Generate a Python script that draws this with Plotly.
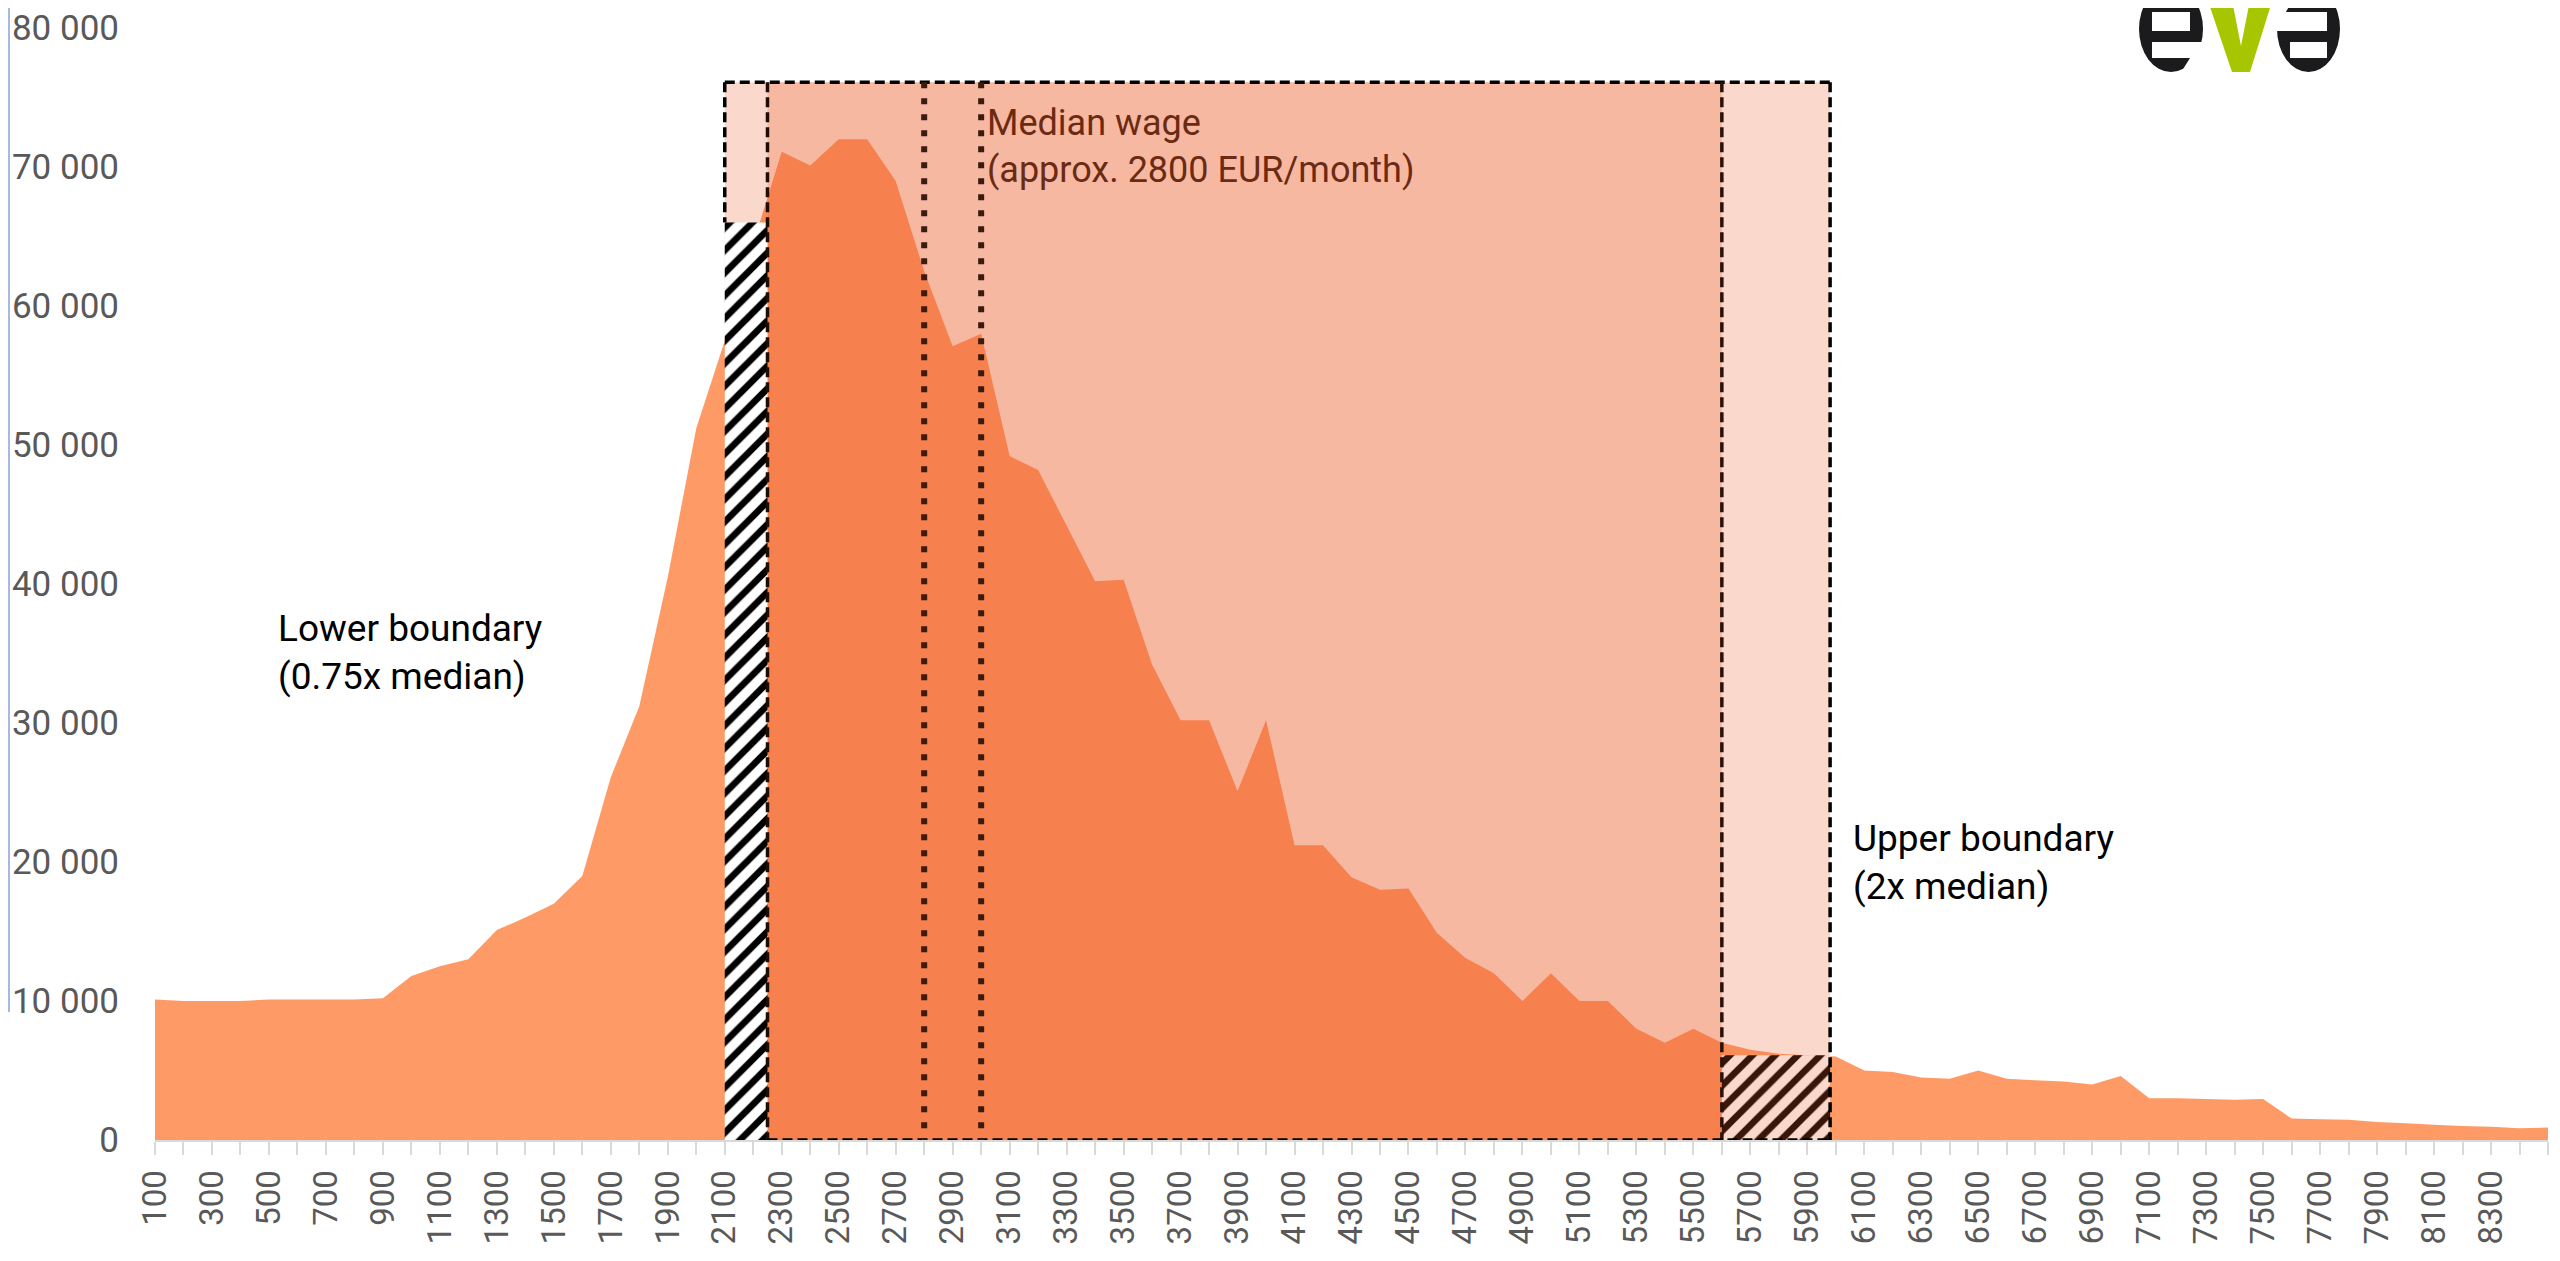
import plotly.graph_objects as go

# ---------------- data ----------------
wages = [100, 200, 300, 400, 500, 600, 700, 800, 900, 1000,
         1100, 1200, 1300, 1400, 1500, 1600, 1700, 1800, 1900, 2000,
         2100, 2200, 2300, 2400, 2500, 2600, 2700, 2800, 2900, 3000,
         3100, 3200, 3300, 3400, 3500, 3600, 3700, 3800, 3900, 4000,
         4100, 4200, 4300, 4400, 4500, 4600, 4700, 4800, 4900, 5000,
         5100, 5200, 5300, 5400, 5500, 5600, 5700, 5800, 5900, 6000,
         6100, 6200, 6300, 6400, 6500, 6600, 6700, 6800, 6900, 7000,
         7100, 7200, 7300, 7400, 7500, 7600, 7700, 7800, 7900, 8000,
         8100, 8200, 8300, 8400, 8500]
workers = [10100, 10000, 10000, 10000, 10100, 10100, 10100, 10100, 10200, 11800,
           12500, 13000, 15100, 16000, 17000, 19000, 26100, 31200, 40500, 51200,
           57500, 64500, 71100, 70100, 72000, 72000, 69000, 62500, 57100, 58000,
           49200, 48200, 44200, 40200, 40300, 34200, 30200, 30200, 25100, 30200,
           21200, 21200, 18900, 18000, 18100, 14900, 13100, 12000, 10000, 12000,
           10000, 10000, 8000, 7000, 8000, 7000, 6500, 6200, 6100, 6000,
           5000, 4900, 4500, 4400, 5000, 4400, 4300, 4200, 4000, 4600,
           3000, 3000, 2950, 2900, 2950, 1550, 1500, 1450, 1300, 1200,
           1100, 1000, 950, 850, 900]

x_labels = [100, 300, 500, 700, 900, 1100, 1300, 1500, 1700, 1900, 2100,
            2300, 2500, 2700, 2900, 3100, 3300, 3500, 3700, 3900, 4100,
            4300, 4500, 4700, 4900, 5100, 5300, 5500, 5700, 5900, 6100,
            6300, 6500, 6700, 6900, 7100, 7300, 7500, 7700, 7900, 8100, 8300]
y_ticks = [0, 10000, 20000, 30000, 40000, 50000, 60000, 70000, 80000]
y_tick_text = ["0", "10 000", "20 000", "30 000", "40 000",
               "50 000", "60 000", "70 000", "80 000"]

median_lines = [2800, 3000]
lower_zone = [2100, 2250]     # lower boundary band (0.75x median)
upper_zone = [5600, 5980]     # upper boundary band (2x median)
box_top = 76100
lower_hatch_top = 66000
upper_hatch_top = 6100

# ---------------- page geometry ----------------
FONT = "Roboto, Liberation Sans, Arial, sans-serif"
PAGE_W, PAGE_H = 2560, 1261
OFF = 8                                   # default <body> margin of the html page
W, H = PAGE_W - OFF, PAGE_H - OFF         # figure fills the window exactly
PLOT_L, PLOT_R, PLOT_T, PLOT_B = 155, 2548, 28, 1140   # plot area in page pixels
ML, MR = PLOT_L - OFF, PAGE_W - PLOT_R
MT, MB = PLOT_T - OFF, PAGE_H - PLOT_B
PW, PH = PLOT_R - PLOT_L, PLOT_B - PLOT_T


def px_x(x):
    return (x - PLOT_L) / PW


def px_y(y):
    return (PLOT_B - y) / PH


fig = go.Figure()

# main distribution area
fig.add_trace(go.Scatter(x=wages, y=workers, mode="none", fill="tozeroy",
                         fillcolor="#FE9A66", hoverinfo="skip"))

# outer (light) band
x0, x1 = lower_zone[0], upper_zone[1]
fig.add_trace(go.Scatter(x=[x0, x1, x1, x0, x0], y=[0, 0, box_top, box_top, 0],
                         mode="none", fill="toself",
                         fillcolor="rgba(238,101,53,0.25)", hoverinfo="skip"))
# inner (darker) band
x0, x1 = lower_zone[1], upper_zone[0]
fig.add_trace(go.Scatter(x=[x0, x1, x1, x0, x0], y=[0, 0, box_top, box_top, 0],
                         mode="none", fill="toself",
                         fillcolor="rgba(238,101,53,0.28)", hoverinfo="skip"))

# hatched boundary bars
x0, x1 = lower_zone
fig.add_trace(go.Scatter(x=[x0, x1, x1, x0, x0],
                         y=[0, 0, lower_hatch_top, lower_hatch_top, 0],
                         mode="none", fill="toself", fillcolor="white",
                         fillpattern=dict(shape="/", bgcolor="white", fgcolor="black",
                                          size=16, solidity=0.42, fillmode="replace"),
                         hoverinfo="skip"))
x0, x1 = upper_zone
fig.add_trace(go.Scatter(x=[x0, x1, x1, x0, x0],
                         y=[0, 0, upper_hatch_top, upper_hatch_top, 0],
                         mode="none", fill="toself", fillcolor="#FBD8CC",
                         fillpattern=dict(shape="/", bgcolor="#FBD8CC", fgcolor="#3A160A",
                                          size=16, solidity=0.42, fillmode="replace"),
                         hoverinfo="skip"))

shapes = []
DASH = "10px,5px"


def dline(xa, ya, xb, yb, color="black", width=3.5, d=DASH):
    shapes.append(dict(type="line", xref="x", yref="y", x0=xa, y0=ya, x1=xb, y1=yb,
                       line=dict(color=color, width=width, dash=d), layer="above"))


# dashed box borders
dline(lower_zone[0], box_top, upper_zone[1], box_top)
dline(lower_zone[0], box_top, lower_zone[0], lower_hatch_top)
dline(upper_zone[1], box_top, upper_zone[1], 0)
dline(lower_zone[1], box_top, lower_zone[1], 0, color="#1E0C05")
dline(upper_zone[0], box_top, upper_zone[0], 0, color="#2B1208")
dline(lower_zone[1], 0, upper_zone[1], 0)

# median dotted lines
for m in median_lines:
    dline(m, box_top, m, 0, color="#3B1A10", width=6, d="6px,10px")

# thin blue axis artefact on the far left
shapes.append(dict(type="line", xref="paper", yref="paper",
                   x0=px_x(9), x1=px_x(9), y0=px_y(OFF), y1=px_y(1012),
                   line=dict(color="#A5B9E2", width=2)))

# EVA logo (top edge cut off by the image border)
BLACK = "#1B1A1C"
GREEN = "#A8C600"


def rect_px(xa, ya, xb, yb, color):
    shapes.append(dict(type="rect", xref="paper", yref="paper",
                       x0=px_x(xa), x1=px_x(xb), y0=px_y(ya), y1=px_y(yb),
                       fillcolor=color, line=dict(width=0), layer="above"))


def ell_px(xa, ya, xb, yb, color):
    shapes.append(dict(type="circle", xref="paper", yref="paper",
                       x0=px_x(xa), x1=px_x(xb), y0=px_y(ya), y1=px_y(yb),
                       fillcolor=color, line=dict(width=0), layer="above"))


def poly_px(pts, color):
    path = "M " + " L ".join(f"{px_x(a):.5f},{px_y(b):.5f}" for a, b in pts) + " Z"
    shapes.append(dict(type="path", xref="paper", yref="paper", path=path,
                       fillcolor=color, line=dict(width=0), layer="above"))


# "e"
ell_px(2139, -14, 2203, 72, BLACK)
rect_px(2152, 12, 2190, 31, "white")
rect_px(2152, 42, 2205, 58, "white")
poly_px([(2190, 58), (2205, 58), (2205, 74), (2180, 74)], "white")
# "v"
poly_px([(2206, -5), (2231, -5), (2241, 46), (2251, -5), (2274, -5),
         (2250, 72), (2232, 72)], GREEN)
# "a"
ell_px(2277, -14, 2340, 72, BLACK)
poly_px([(2276, 12), (2327, 12), (2327, 31), (2276, 31)], "white")
poly_px([(2276, -14), (2300, -14), (2286, 12), (2276, 12)], "white")
rect_px(2290, 42, 2327, 58, "white")

annotations = [
    dict(x=525, y=35100, xref="x", yref="y", xanchor="left", yanchor="middle",
         text="Lower boundary<br>(0.75x median)", showarrow=False, align="left",
         font=dict(family=FONT, size=37, color="black")),
    dict(x=3012, y=71500, xref="x", yref="y", xanchor="left", yanchor="middle",
         text="Median wage<br>(approx. 2800 EUR/month)", showarrow=False, align="left",
         font=dict(family=FONT, size=36, color="#6B2A12")),
    dict(x=6055, y=20000, xref="x", yref="y", xanchor="left", yanchor="middle",
         text="Upper boundary<br>(2x median)", showarrow=False, align="left",
         font=dict(family=FONT, size=37, color="black")),
]

fig.update_layout(
    width=W, height=H,
    margin=dict(l=ML, r=MR, t=MT, b=MB, pad=0, autoexpand=False),
    paper_bgcolor="white", plot_bgcolor="white",
    showlegend=False,
    shapes=shapes, annotations=annotations,
    xaxis=dict(range=[wages[0], wages[-1]], tickmode="array", tickvals=wages,
               ticktext=[str(w) if w in x_labels else "" for w in wages],
               tickangle=-90, ticks="outside", ticklen=13, tickwidth=2,
               tickcolor="#D9D9D9", showline=True, linecolor="#D9D9D9", linewidth=2,
               showgrid=False, zeroline=False, ticklabelstandoff=2, automargin=False,
               ticklabeloverflow="allow",
               tickfont=dict(family=FONT, size=33, color="#595959")),
    yaxis=dict(range=[0, 80000], tickmode="array", tickvals=y_ticks,
               ticktext=y_tick_text, ticks="", showline=False, showgrid=False,
               zeroline=False, ticklabelstandoff=35, automargin=False,
               ticklabeloverflow="allow",
               tickfont=dict(family=FONT, size=35, color="#595959")),
)

fig.write_html("out.html")
